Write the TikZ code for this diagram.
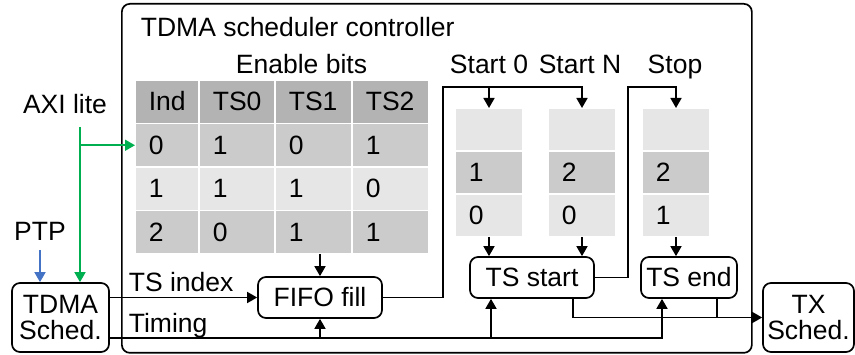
\documentclass[tikz,border=0pt]{standalone}
\usepackage{fontspec}
\setmainfont{Liberation Sans}
\usetikzlibrary{arrows.meta}
\definecolor{hdr}{HTML}{B3B3B3}
\definecolor{drk}{HTML}{CBCBCB}
\definecolor{lgt}{HTML}{E6E6E6}
\definecolor{axigreen}{HTML}{00B050}
\definecolor{ptpblue}{HTML}{4472C4}
\begin{document}
\begin{tikzpicture}[x=1pt,y=-1pt,
  font=\fontsize{26.5}{29}\selectfont,
  line width=1.7pt,
  arr/.style={-{Triangle[length=10pt,width=11pt]}},
  block/.style={draw, rounded corners=8pt, align=center, inner sep=0pt},
  cellbox/.style={draw=white, line width=1.5pt, inner sep=0pt, outer sep=0pt},
  txt/.style={inner sep=0pt}]
\useasboundingbox (0,0) rectangle (855,355);

% controller frame and its title
\node[draw, rounded corners=8pt, minimum width=630pt, minimum height=349pt,
      anchor=north west, inner sep=0pt] (ctrl) at (121,3) {};
\node[txt, anchor=base west] (title) at (140,37) {TDMA scheduler controller};

% enable bits table
\node[txt, anchor=base] (enlbl) at (301.5,74) {Enable bits};
\foreach \r/\fc/\ta/\tb/\tc/\td in {0/hdr/Ind/TS0/TS1/TS2, 1/drk/0/1/0/1,
                                    2/lgt/1/1/1/0, 3/drk/2/0/1/1}{
  \foreach \cx/\cw/\lbl [count=\ci] in {135/64/\ta, 199/76/\tb, 275/77/\tc, 352/77/\td}{
    \node[cellbox, fill=\fc, minimum width=\cw*1pt, minimum height=43.5pt,
          anchor=north west] (e\r\ci) at (\cx, 80+43.5*\r) {};
    \node[txt, anchor=base west] (e\r\ci t) at (\cx+13, 80+43.5*\r+31) {\lbl};
  }
}
\coordinate (tblb) at (320,254);

% start / stop FIFO columns
\foreach \cx/\nm/\va/\vb in {455/s/1/0, 548/n/2/0, 642/p/2/1}{
  \node[cellbox, fill=lgt, minimum width=68pt, minimum height=43pt, anchor=north west] (\nm1) at (\cx,108) {};
  \node[cellbox, fill=drk, minimum width=68pt, minimum height=43pt, anchor=north west] (\nm2) at (\cx,151) {};
  \node[cellbox, fill=lgt, minimum width=68pt, minimum height=43pt, anchor=north west] (\nm3) at (\cx,194) {};
  \node[txt, anchor=base west] (\nm2t) at (\cx+13,182) {\va};
  \node[txt, anchor=base west] (\nm3t) at (\cx+13,225) {\vb};
}
\node[txt, anchor=base] (lblS0) at (489,74) {Start 0};
\node[txt, anchor=base] (lblSN) at (580,74) {Start N};
\node[txt, anchor=base] (lblSt) at (675,74) {Stop};

% blocks
\node[block, minimum width=97pt, minimum height=69pt] (sched) at (60.5,317.5) {TDMA\\[-3pt]Sched.};
\node[block, minimum width=124pt, minimum height=41pt] (fifo) at (320,297.5) {FIFO fill};
\node[block, minimum width=124pt, minimum height=41pt] (tss) at (532,277.5) {TS start};
\node[block, minimum width=96pt, minimum height=41pt] (tse) at (689,277.5) {TS end};
\node[block, minimum width=91pt, minimum height=69pt] (tx) at (808.5,317.5) {TX\\[-3pt]Sched.};

% external inputs
\node[txt, anchor=base] (axi) at (65,114) {AXI lite};
\node[txt, anchor=base] (ptp) at (40,241) {PTP};
\coordinate (axitop) at (80,127);
\coordinate (ptptop) at (40,250);
\draw[arr, axigreen] (axitop) -- (axitop |- sched.north);
\draw[arr, axigreen] (axitop |- e11.west) -- (e11.west);
\draw[arr, ptpblue] (ptptop) -- (ptptop |- sched.north);

% TS index and timing
\node[txt, anchor=base west] (tsidx) at (128,292) {TS index};
\node[txt, anchor=base west] (timing) at (128,333) {Timing};
\draw[arr] (sched.east |- fifo.west) -- (fifo.west);
\coordinate (tim) at ([yshift=-20.5pt]sched.east);
\coordinate (tssin) at ([xshift=-41pt]tss.south);
\coordinate (tsein) at ([xshift=-27pt]tse.south);
\draw[arr] (tim) -| (tsein);
\draw[arr] (tim -| fifo.south) -- (fifo.south);
\draw[arr] (tim -| tssin) -- (tssin);
\draw[arr] (tblb) -- (fifo.north);

% FIFO fill feeds the start columns, TS start feeds the stop column
\coordinate (bend1) at (443,87);
\coordinate (bend2) at (628,87);
\draw[arr] (fifo.east) -| (bend1) -| (n1.north);
\draw[arr] (bend1 -| s1.north) -- (s1.north);
\draw[arr] (tss.east) -| (bend2) -| (p1.north);

% columns to comparators
\draw[arr] (s3.south) -- (s3.south |- tss.north);
\draw[arr] (n3.south) -- (n3.south |- tss.north);
\draw[arr] (p3.south) -- (p3.south |- tse.north);

% comparators to TX scheduler
\coordinate (tssout) at ([xshift=41pt]tss.south);
\coordinate (tseout) at ([xshift=28pt]tse.south);
\draw[arr] (tssout) |- (tx.west);
\draw (tseout) -- (tseout |- tx.west);
\end{tikzpicture}
\end{document}
